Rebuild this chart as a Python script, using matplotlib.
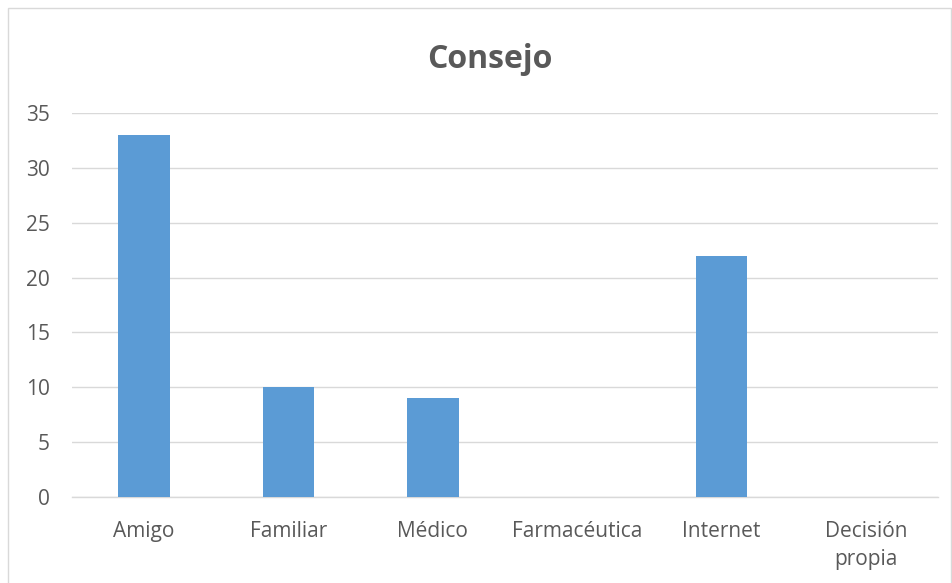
import matplotlib
matplotlib.use("Agg")
import matplotlib.pyplot as plt
from matplotlib.patches import Rectangle

categories = ["Amigo", "Familiar", "Médico", "Farmacéutica", "Internet", "Decisión\npropia"]
values = [33, 10, 9, 0, 22, 0]
yticks = [0, 5, 10, 15, 20, 25, 30, 35]

text_color = "#595959"
bar_color = "#5b9bd5"
grid_color = "#d9d9d9"

plt.rcParams["font.family"] = ["Open Sans", "DejaVu Sans"]

fig = plt.figure(figsize=(9.53, 5.83), dpi=100)
ax = fig.add_axes([72 / 953, 1 - 497 / 583, (938 - 72) / 953, (497 - 113) / 583])

x = list(range(len(categories)))
ax.bar(x, values, width=0.36, color=bar_color, zorder=3)

ax.set_xlim(-0.5, len(categories) - 0.5)
ax.set_ylim(0, 35)
ax.set_yticks(yticks)
ax.set_xticks(x)
ax.set_xticklabels(categories, linespacing=1.45)
ax.tick_params(axis="both", length=0, labelsize=15, labelcolor=text_color)
ax.tick_params(axis="y", pad=16)
ax.tick_params(axis="x", pad=17)

ax.grid(axis="y", color=grid_color, linewidth=1, zorder=0)
for side in ["top", "right", "left"]:
    ax.spines[side].set_visible(False)
ax.spines["bottom"].set_color(grid_color)
ax.spines["bottom"].set_linewidth(1)

fig.text(490 / 953, 1 - 60 / 583, "Consejo", ha="center", va="center",
         fontsize=23, fontweight="bold", color=text_color)

# outer chart frame
fig.patches.append(Rectangle((8 / 953, -0.01), (951 - 8) / 953, 1 - 8 / 583 + 0.01,
                             transform=fig.transFigure, fill=False,
                             edgecolor="#d9d9d9", linewidth=1))

fig.savefig("out.png", dpi=100)
